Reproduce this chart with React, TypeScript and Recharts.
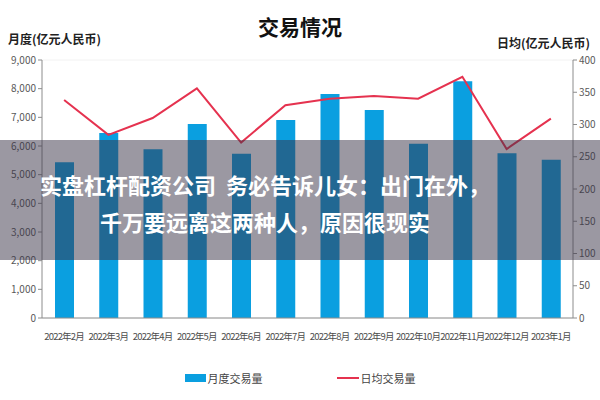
import { ComposedChart, Bar, Line, XAxis, YAxis, CartesianGrid, Legend } from 'recharts';

const months = ['2022年2月', '2022年3月', '2022年4月', '2022年5月', '2022年6月', '2022年7月', '2022年8月', '2022年9月', '2022年10月', '2022年11月', '2022年12月', '2023年1月'];
const monthlyVolume = [5430, 6450, 5890, 6770, 5730, 6910, 7810, 7260, 6075, 8260, 5750, 5520];
const dailyVolume = [338, 284, 310, 356, 272, 330, 340, 344, 340, 374, 262, 309];
const leftTicks = [0, 1000, 2000, 3000, 4000, 5000, 6000, 7000, 8000, 9000];
const rightTicks = [0, 50, 100, 150, 200, 250, 300, 350, 400];

const data = months.map((m, i) => ({ month: m, monthly: monthlyVolume[i], daily: dailyVolume[i] }));

const FONT = '"Noto Sans CJK SC", "Noto Sans", sans-serif';
const BLUE = '#0a9fe0';
const RED = '#e5324f';
const tick = { fill: '#595959', fontSize: 10, fontFamily: FONT };
const xTick = { fill: '#4d4d4d', fontSize: 9.5, fontFamily: FONT, letterSpacing: -0.8 };

const LegendBox = () => (
  <div style={{ display: 'flex', justifyContent: 'center', gap: 74, fontFamily: FONT, fontSize: 11, color: '#444' }}>
    <div style={{ display: 'flex', alignItems: 'center', gap: 2 }}>
      <div style={{ width: 21, height: 8, background: BLUE }} />
      <span>月度交易量</span>
    </div>
    <div style={{ display: 'flex', alignItems: 'center', gap: 2 }}>
      <div style={{ width: 22, height: 2, background: RED }} />
      <span>日均交易量</span>
    </div>
  </div>
);

export default function App() {
  return (
    <div style={{ position: 'absolute', left: 0, top: 0, width: 600, height: 400, background: '#fff', fontFamily: FONT }}>
      <ComposedChart width={600} height={400} data={data} margin={{ top: 60, right: 0, left: 0, bottom: 24 }}>
        <CartesianGrid vertical={false} stroke="#f2f2f2" />
        <XAxis dataKey="month" tick={xTick} tickLine={false} axisLine={{ stroke: '#8c8c8c' }} interval={0} height={42} tickMargin={9} />
        <YAxis
          yAxisId="left"
          domain={[0, 9000]}
          ticks={leftTicks}
          tick={tick}
          width={42}
          axisLine={{ stroke: '#8c8c8c' }}
          tickLine={{ stroke: '#8c8c8c' }}
          tickSize={4}
          tickFormatter={(v: number) => v.toLocaleString('en-US')}
        />
        <YAxis
          yAxisId="right"
          orientation="right"
          domain={[0, 400]}
          ticks={rightTicks}
          tick={tick}
          width={27}
          axisLine={{ stroke: '#8c8c8c' }}
          tickLine={{ stroke: '#8c8c8c' }}
          tickSize={4}
        />
        <Legend verticalAlign="bottom" content={() => <LegendBox />} wrapperStyle={{ bottom: 14 }} />
        <Bar yAxisId="left" dataKey="monthly" name="月度交易量" fill={BLUE} barSize={19} isAnimationActive={false} />
        <Line yAxisId="right" type="linear" dataKey="daily" name="日均交易量" stroke={RED} strokeWidth={2} dot={false} isAnimationActive={false} />
      </ComposedChart>
      <div style={{ position: 'absolute', left: 0, width: 600, top: 11, textAlign: 'center', fontSize: 21, fontWeight: 700, color: '#111' }}>交易情况</div>
      <div style={{ position: 'absolute', left: 8, top: 30, fontSize: 12, fontWeight: 700, color: '#222' }}>月度(亿元人民币)</div>
      <div style={{ position: 'absolute', right: 10, top: 34, fontSize: 12, fontWeight: 700, color: '#222' }}>日均(亿元人民币)</div>
      <div style={{ position: 'absolute', left: 0, top: 140, width: 600, height: 120, background: 'rgba(55,50,70,0.5)' }} />
      <div style={{ position: 'absolute', left: 0, top: 166, width: 530, textAlign: 'center', color: '#fff', fontSize: 22, fontWeight: 700, lineHeight: '37px', whiteSpace: 'pre' }}>
        {'实盘杠杆配资公司  务必告诉儿女：出门在外，\n千万要远离这两种人，原因很现实'}
      </div>
    </div>
  );
}
